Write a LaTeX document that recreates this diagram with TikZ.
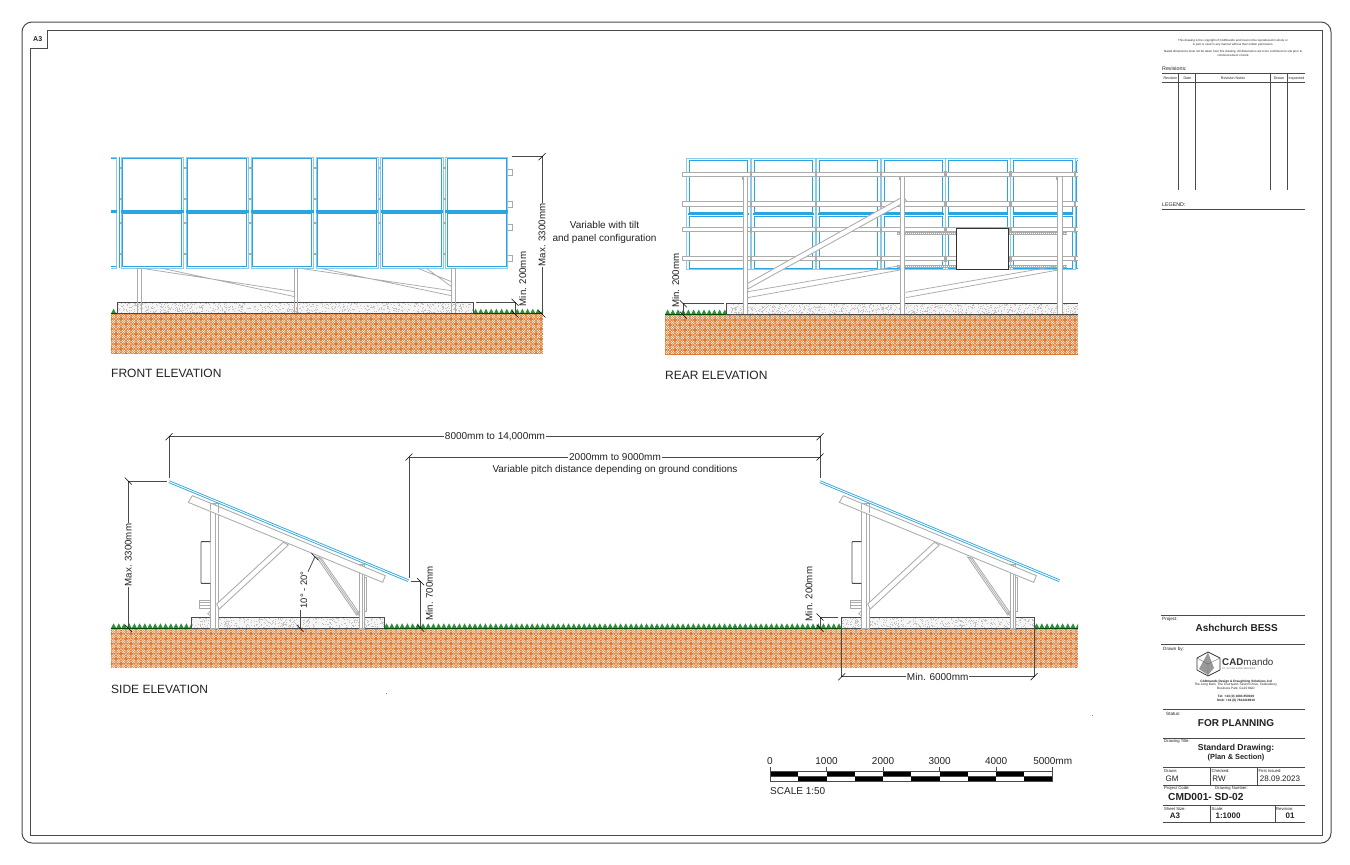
\documentclass[tikz,border=0pt]{standalone}
\usepackage{fontspec}
\setmainfont{Liberation Sans}
\definecolor{soilc}{HTML}{DE7C33}
\definecolor{pblue}{HTML}{2AA5E2}
\definecolor{lblue}{HTML}{8CCBEE}
\definecolor{stc}{HTML}{ABABAB}
\definecolor{dimc}{HTML}{4A4A4A}
\definecolor{grassc}{HTML}{2B8F3C}
\definecolor{txtc}{HTML}{222222}
\newcommand{\fs}[1]{\fontsize{#1}{#1}\selectfont}
\tikzset{
  dimline/.style={draw=dimc,line width=.8pt},
  dimtick/.style={draw=black,line width=.55pt},
  steel/.style={draw=stc,line width=.85pt,fill=white},
  steelthin/.style={draw=stc,line width=.75pt},
  frameline/.style={draw=dimc,line width=1pt},
  rule/.style={draw=dimc,line width=.9pt},
  lab/.style={text=txtc,inner sep=0pt,anchor=west},
  clab/.style={text=txtc,inner sep=0pt,anchor=center},
  vlab/.style={text=txtc,rotate=90,fill=white,inner sep=1pt,anchor=center},
  hlab/.style={text=txtc,fill=white,inner sep=1pt,anchor=center},
}
\newcommand{\tf}[2]{\draw[dimtick] (#1-3.5,#2+3.5) -- (#1+3.5,#2-3.5);}
\newcommand{\tb}[2]{\draw[dimtick] (#1-3.5,#2-3.5) -- (#1+3.5,#2+3.5);}
\newcommand{\soil}[4]{%
  \fill[soilc] (#1,#2) rectangle (#3,#4);
  \begin{scope}
    \clip (#1,#2) rectangle (#3,#4-.8);
    \pgfmathtruncatemacro\nxx{(#3-#1)/5}
    \pgfmathtruncatemacro\nyy{(#4-#2)/5}
    \foreach \i in {0,...,\nxx}{\foreach \j in {0,...,\nyy}{
      \pgfmathsetmacro\X{#1+\i*5}\pgfmathsetmacro\Y{#2+\j*5}
      \ifodd\numexpr\i+\j\relax
        \draw[white,line width=.55pt] (\X+.5,\Y+4.5)--(\X+4.5,\Y+.5) (\X+.5,\Y+2.5)--(\X+2.5,\Y+.5) (\X+2.5,\Y+4.5)--(\X+4.5,\Y+2.5);
      \else
        \draw[white,line width=.55pt] (\X+.5,\Y+.5)--(\X+4.5,\Y+4.5) (\X+2.5,\Y+.5)--(\X+4.5,\Y+2.5) (\X+.5,\Y+2.5)--(\X+2.5,\Y+4.5);
      \fi
    }}
  \end{scope}}
\newcommand{\grass}[3]{% x0,x1,y
  \begin{scope}
  \clip (#1,#3-7) rectangle (#2,#3+.5);
  \pgfmathtruncatemacro\ngg{(#2-#1)/5.2}
  \foreach \k in {0,...,\ngg}{
    \pgfmathsetmacro\X{#1+\k*5.2}
    \fill[grassc] (\X,#3) -- (\X+2.6,#3-5) -- (\X+5.2,#3) -- cycle;
  }
  \end{scope}
  \draw[black!70!green,line width=.5pt] (#1,#3) -- (#2,#3);}
\newcommand{\pad}[4]{% x0,y0,x1,y1 concrete block
  \fill[black!4] (#1,#2) rectangle (#3,#4);
  \pgfmathtruncatemacro\nsp{(#3-#1)*(#4-#2)/5}
  \foreach \k in {1,...,\nsp}{
    \pgfmathsetmacro\X{#1+rnd*(#3-#1)}\pgfmathsetmacro\Y{#2+rnd*(#4-#2)}
    \fill[black!24] (\X,\Y) rectangle +(.7,.7);
  }}
\newcommand{\sideframe}{%
  % posts and braces
  \draw[steel] (332,234) rectangle (354,610);
  \draw[steelthin] (345,234) -- (345,610);
  \draw[steel] (778,418) rectangle (792,610);
  \draw[steelthin] (788,418) -- (788,610);
  \draw[steelthin] (792,458) -- (800,458) -- (800,560) -- (792,560);
  \draw[steel] (350,537) -- (550,352) -- (565,360) -- (358,552) -- cycle;
  \draw[steel] (650,396) -- (664,400) -- (778,565) -- (770,570) -- cycle;
  \draw[steelthin] (656,396) -- (774,568);
  \foreach \yy in {365,465,518}{\fill[stc] (354,\yy-5) rectangle (358,\yy+5);}
  \draw[steelthin] (298,525) rectangle (331,550);
  \foreach \yy in {533,541}{\draw[steelthin] (298,\yy) -- (331,\yy);}
  \draw[steelthin] (331,558) -- (323,566) -- (331,572);
  \draw[steelthin] (778,558) -- (770,566) -- (778,572);
  \draw[draw=dimc,line width=.85pt,rounded corners=.5pt,fill=white] (331,350) -- (303,350) -- (303,475) -- (331,475);
  % beam
  \draw[steel] (277,212) -- (856,452) -- (848,472) -- (265,232) -- cycle;
  \draw[steel] (332,234) -- (332,256) (354,244) -- (354,265);
  % clamps
  \foreach \xa/\ya/\xb/\yb in {286,200,274,232, 493,285,483,322, 646,348,637,384, 853,435,845,470}{
    \draw[draw=stc,line width=2.4pt] (\xa,\ya) -- (\xb,\yb);
    \draw[draw=white,line width=.7pt] (\xa,\ya) -- (\xb,\yb);
  }
  % panel
  \draw[draw=pblue,line width=.85pt,double=white,double distance=.95pt] (207,170) -- (925,467);
}
\begin{document}
\begin{tikzpicture}[x=1pt,y=-1pt]
\useasboundingbox (0,0) rectangle (1350,865);
\fill[white] (0,0) rectangle (1350,865);
\pgfmathsetseed{4242}
% sheet borders
\draw[frameline,rounded corners=10pt] (22,22) rectangle (1331,843);
\draw[frameline] (30,835) -- (30,48) -- (47,48) -- (47,30) -- (1322,30) -- (1322,835) -- cycle;
\node[lab,font=\bfseries\fs{7}] (sheetsz) at (33,39) {A3};

%%%%% FRONT ELEVATION
\soil{111}{314}{543}{354}
\grass{111}{117}{313.7}
\grass{473}{543}{313.7}
% panels
\foreach \x in {122.7,187.7,252.7,317.5,382.3,447}{
  \draw[draw=lblue,line width=.8pt] (\x-1.6,157) rectangle (\x+60.8,268);
  \draw[draw=pblue,line width=1pt] (\x,158.6) rectangle (\x+59.2,210);
  \draw[draw=pblue,line width=1pt] (\x,213) rectangle (\x+59.2,266);
  \fill[pblue] (\x-1.6,210.4) rectangle (\x+60.8,212.6);
  \foreach \yy in {167.7,199.3,222.7,254.3}{\fill[stc] (\x-3.6,\yy-1) rectangle (\x-1,\yy+1);}
}
\draw[draw=lblue,line width=.8pt] (111,157) -- (116.5,157) -- (116.5,268) -- (111,268);
\draw[draw=pblue,line width=1pt] (111,158.6) -- (115.5,158.6) (111,266) -- (115.5,266) (119,157) -- (119,268);
\fill[pblue] (111,210.4) rectangle (116.5,212.6);
\foreach \yy in {172,204,227,258}{\draw[steelthin] (508,\yy-3) -- (512,\yy-3) -- (512,\yy+3) -- (508,\yy+3);}
% pad
\pad{117.3}{302.3}{473.3}{313.7}
\draw[draw=dimc,line width=.8pt] (117.3,313.7) -- (117.3,302.3) -- (473.3,302.3) -- (473.3,313.7);
% posts and braces
\foreach \x in {139.3,296,453.3}{\draw[steel,fill=none] (\x-1.9,268.5) rectangle (\x+1.9,313.7);}
\draw[steelthin] (143,268.5) -- (294,291.5) (163,268.5) -- (294,296.5);
\draw[steelthin] (301.7,268.5) -- (451.5,290.7) (321.7,268.5) -- (451.5,295.7);
\draw[steelthin] (418.3,268.5) -- (451.5,281.7) (426.7,268.5) -- (451.5,286.7);
\draw[draw=dimc,line width=.8pt] (117.3,313.7) -- (473.3,313.7);
% dims
\coordinate (fa) at (542,156.7); \coordinate (fb) at (542,314);
\draw[dimline] (511.7,156.7) -- (fa) -- (fb);
\tf{542}{156.7}\tb{542}{314}
\node[vlab,font=\fs{9.7}] (fmax) at (542,235) {Max. 3300mm};
\draw[dimline] (476,302.3) -- (515,302.3) -- (515,314);
\tb{515}{302.3}\tb{515}{314}
\node[vlab,font=\fs{9.7},fill=none] (fmin) at (522.7,279) {Min. 200mm};
\node[clab,font=\fs{10},align=center] (fvar) at (604.5,232) {Variable with tilt\\[3pt]and panel configuration};
\node[lab,font=\fs{12}] (ftitle) at (111,373.5) {FRONT ELEVATION};

%%%%% REAR ELEVATION
\soil{665}{315}{1078}{354.6}
\grass{665}{726}{314.5}
\foreach \x in {689.3,754,819,884,948.7,1013.7}{
  \draw[draw=lblue,line width=.8pt] (\x-3,158.3) rectangle (\x+61.5,269.5);
  \draw[draw=pblue,line width=1pt] (\x,160.7) rectangle (\x+58.4,212.5);
  \draw[draw=pblue,line width=1pt] (\x,216) rectangle (\x+58.4,268.5);
  \fill[pblue] (\x-1,213.2) rectangle (\x+59.5,215.4);
}
\draw[draw=pblue,line width=1pt] (1076.7,160.7) -- (1078,160.7) (1076.7,268.5) -- (1078,268.5) (1076.7,160.7) -- (1076.7,268.5);
\draw[draw=lblue,line width=.8pt] (1075,158.3) -- (1078,158.3);
% rails
\foreach \yy in {174.3,204,229.7,258.7}{
  \draw[steel] (1078,\yy-2.2) -- (682.3,\yy-2.2) -- (682.3,\yy+2.2) -- (1078,\yy+2.2);
  \foreach \x in {750.7,815.7,880.7,945.3,1010.3,1075}{\fill[stc] (\x-1.2,\yy-3) rectangle (\x+1.2,\yy+3);}
}
% hatched short rails
\foreach \yy in {233.3,266.3}{
  \draw[draw=stc,line width=2.4pt] (896.7,\yy) -- (1066.7,\yy);
  \draw[draw=white,line width=.9pt,dash pattern=on 1pt off 1pt] (897.5,\yy) -- (1066,\yy);
}
% box
\draw[draw=black!80,line width=.9pt,fill=white] (956.7,228.3) rectangle (1008.3,269);
% pad
\pad{726.7}{303.7}{1078}{314.5}
\draw[draw=dimc,line width=.8pt] (726.7,314.5) -- (726.7,303.7) -- (1078,303.7);
% braces
\draw[steel] (747.7,283.3) -- (903,196.7) -- (906.7,201) -- (747.7,289) -- cycle;
\draw[steelthin] (747.7,291.7) -- (900,265.7) (747.7,297.7) -- (900,270);
\draw[steelthin] (905.7,292.3) -- (1058,265.7) (905.7,297.7) -- (1058,270);
% posts
\foreach \x in {745.7,902.7,1060}{
  \draw[steel] (\x-2.2,176.7) rectangle (\x+2.2,315);
  \draw[steelthin] (\x-2.2,176.7) -- (\x-3.7,176.7) -- (\x-3.7,180);
}
\draw[draw=dimc,line width=.8pt] (726.7,314.7) -- (1078,314.7);
% dims
\draw[dimline] (724,303.7) -- (683.3,303.7) -- (683.3,315);
\tb{683.3}{303.7}\tb{683.3}{315}
\node[vlab,font=\fs{9.7},fill=none] (rmin) at (675.7,280.7) {Min. 200mm};
\node[lab,font=\fs{12}] (rtitle) at (665,375) {REAR ELEVATION};

%%%%% SIDE ELEVATION
\soil{111}{628.8}{1078}{668.3}
\grass{111}{191}{628.3}
\grass{384}{842}{628.3}
\grass{1034}{1078}{628.3}
\pad{191}{617}{384}{628.3}
\pad{841.7}{617}{1034}{628.3}
\draw[draw=dimc,line width=.8pt] (191,628.3) -- (191,617) -- (384,617) -- (384,628.3) (841.7,628.3) -- (841.7,617) -- (1034,617) -- (1034,628.3);
\draw[draw=dimc,line width=.8pt] (191,628.3) -- (384,628.3) (841.7,628.3) -- (1034,628.3);
\begin{scope}[shift={(100,425)},x=.33333pt,y=-.33333pt]
  \sideframe
\end{scope}
\begin{scope}[shift={(751,425)},x=.33333pt,y=-.33333pt]
  \sideframe
\end{scope}
% overall dims
\coordinate (sa) at (169,436.7); \coordinate (sb) at (820,436.7);
\draw[dimline] (169,478) -- (sa) -- (sb) -- (820,478);
\tf{169}{436.7}\tf{820}{436.7}
\node[hlab,font=\fs{10}] (s8000) at (495,436.7) {8000mm to 14,000mm};
\coordinate (pa) at (409,457); \coordinate (pb) at (820,457);
\draw[dimline] (409,577.7) -- (pa) -- (pb);
\tf{409}{457}\tf{820}{457}
\node[hlab,font=\fs{10}] (s2000) at (615,457) {2000mm to 9000mm};
\node[clab,font=\fs{10}] (spitch) at (615,470) {Variable pitch distance depending on ground conditions};
\draw[dimline] (166.7,481) -- (128.3,481) -- (128.3,628.3);
\tb{128.3}{481}\tb{128.3}{628.3}
\node[vlab,font=\fs{9.7}] (smax) at (128.3,555) {Max. 3300mm};
\draw[dimline] (410.7,581.7) -- (420.7,581.7) -- (420.7,628.3);
\tb{420.7}{581.7}\tb{420.7}{628.3}
\node[vlab,font=\fs{9.7},fill=none] (s700) at (429.3,593.3) {Min. 700mm};
\draw[dimline] (300,610) -- (300,628.3);
\tb{300}{628.3}
\draw[dimline] (308,571.7) -- (315,556.7);
\tb{315}{556.7}
\node[vlab,font=\fs{9.4},fill=none] (sang) at (304,590) {10° - 20°};
\draw[dimline] (838,617) -- (820,617) -- (820,628.3);
\tb{820}{617}\tb{820}{628.3}
\node[vlab,font=\fs{9.7},fill=none] (s200) at (809,594) {Min. 200mm};
\draw[dimline] (841.7,628.3) -- (841.7,676.7) -- (1034,676.7) -- (1034,628.3);
\tf{841.7}{676.7}\tf{1034}{676.7}
\node[hlab,font=\fs{10}] (s6000) at (937.7,676.7) {Min. 6000mm};
\node[lab,font=\fs{12}] (stitle) at (111,689) {SIDE ELEVATION};
\fill[black!50] (385.5,692.5) rectangle +(1,1);
\fill[black!50] (1091.5,714.5) rectangle +(1,1);

%%%%% SCALE BAR
\foreach \i in {0,...,9}{
  \pgfmathsetmacro\xa{770+\i*28.27}\pgfmathsetmacro\xb{\xa+28.27}
  \ifodd\i
    \fill[black] (\xa,776.7) rectangle (\xb,781.7);
  \else
    \fill[black] (\xa,771) rectangle (\xb,776.2);
  \fi
}
\draw[dimc,line width=.6pt] (770,771) rectangle (1052.7,781.7) (770,776.4) -- (1052.7,776.4);
\foreach \i/\t in {0/0,1/1000,2/2000,3/3000,4/4000,5/5000mm}{
  \pgfmathsetmacro\xa{770+\i*56.54}
  \draw[dimc,line width=.6pt] (\xa,766.7) -- (\xa,771);
  \node[clab,font=\fs{10}] at (\xa,760.7) {\t};
}
\node[lab,font=\fs{10}] (sc) at (770,790.7) {SCALE 1:50};

%%%%% NOTES AND REVISIONS
\node[clab,font=\fs{2.95},align=center] (cp1) at (1233,43) {This drawing is the copyright of CADmando and must not be reproduced in whole or\\[.7pt]in part or used in any manner without their written permission.};
\node[clab,font=\fs{2.95},align=center] (cp2) at (1233,53.5) {Stated dimensions must not be taken from this drawing. All dimensions are to be confirmed on site prior to\\[.7pt]commencement of work};
\node[lab,font=\fs{5.3}] (rv) at (1162,68.5) {Revisions:};
\draw[rule] (1162,73.3) -- (1305,73.3) (1162,82.3) -- (1305,82.3);
\foreach \x in {1178.7,1195.7,1270.3,1287.7}{\draw[rule] (\x,73.3) -- (\x,190);}
\foreach \x/\t in {1170.5/Revision,1187.3/Date,1233/Revision Notes,1279/Drawn,1296.5/Inspected}{
  \node[text=txtc,inner sep=0pt,anchor=base,font=\fs{3.6}] at (\x,79.3) {\t};}
\node[lab,font=\fs{5.3}] (lg) at (1162,205) {LEGEND:};
\draw[rule] (1162,209) -- (1305,209);

%%%%% TITLE BLOCK
\draw[rule] (1161,615) -- (1305,615) (1161,644) -- (1305,644) (1163,709) -- (1305,709) (1163,738) -- (1305,738) (1163,767.3) -- (1305,767.3) (1163,785) -- (1305,785) (1163,805) -- (1305,805) (1163,822) -- (1305,822);
\draw[rule] (1210,767.3) -- (1210,785) (1257.7,767.3) -- (1257.7,785) (1210,805) -- (1210,822) (1275,805) -- (1275,822);
\node[lab,font=\fs{4.6}] at (1162,619) {Project:};
\node[clab,font=\bfseries\fs{10}] (proj) at (1236.7,627.7) {Ashchurch BESS};
\node[lab,font=\fs{4.6}] at (1163,649) {Drawn by:};
% logo
\fill[black!40] (1208,652.5) -- (1214,668) -- (1208,675) -- (1199,669) -- cycle;
\draw[black!80,line width=.75pt,line join=round] (1208,652) -- (1220,658) -- (1220,670) -- (1208,676) -- (1197,670) -- (1197,658) -- cycle;
\draw[black!60,line width=.4pt] (1197,658) -- (1208,664) -- (1220,658) (1208,664) -- (1208,676);
\node[lab,font=\fs{9.8},text=black!80] (cad) at (1222,661.7) {\textbf{CAD}mando};
\node[lab,font=\fs{2.4},text=black!60] at (1222,668.5) {2D, 3D CAD \& BIM SERVICES};
\node[clab,font=\fs{3.2},align=center] (addr) at (1236,685) {\textbf{CADmando Design \& Draughting Solutions Ltd}\\[.5pt]The Long Barn, The Courtyard, Severn Drive, Tewkesbury,\\[.5pt]Business Park, GL20 8GD};
\node[clab,font=\bfseries\fs{3.2},align=center] (tel) at (1236,699) {Tel: +44 (0) 1684 850019\\[.5pt]Mob: +44 (0) 7814439819};
\node[lab,font=\fs{4.6}] at (1166,714) {Status:};
\node[clab,font=\bfseries\fs{10}] (stat) at (1236,723.3) {FOR PLANNING};
\node[lab,font=\fs{4.2}] at (1164,741.3) {Drawing Title:};
\node[clab,font=\bfseries\fs{8.6}] (dt1) at (1236,748.5) {Standard Drawing:};
\node[clab,font=\bfseries\fs{7.4}] (dt2) at (1236,757.7) {(Plan \& Section)};
\node[lab,font=\fs{4.2}] at (1164,771) {Drawn:};
\node[lab,font=\fs{4.2}] at (1211.5,771) {Checked:};
\node[lab,font=\fs{4.2}] at (1258.5,771) {First Issued:};
\node[clab,font=\fs{8}] (gm) at (1172,779) {GM};
\node[clab,font=\fs{8}] (rw) at (1219,779) {RW};
\node[clab,font=\fs{8}] (dat) at (1280,779) {28.09.2023};
\node[lab,font=\fs{4.2}] at (1164,788.5) {Project Code:};
\node[lab,font=\fs{4.2}] at (1215,788.5) {Drawing Number:};
\node[lab,font=\bfseries\fs{10.2}] (code) at (1168,797) {CMD001- SD-02};
\node[lab,font=\fs{4.2}] at (1164,808.7) {Sheet Size:};
\node[lab,font=\fs{4.2}] at (1211.5,808.7) {Scale:};
\node[lab,font=\fs{4.2}] at (1276,808.7) {Revision:};
\node[clab,font=\bfseries\fs{8}] (a3b) at (1175,815.7) {A3};
\node[clab,font=\bfseries\fs{8}] (sc2) at (1228,815.7) {1:1000};
\node[clab,font=\bfseries\fs{8}] (rv2) at (1290,815.7) {01};
\end{tikzpicture}
\end{document}
